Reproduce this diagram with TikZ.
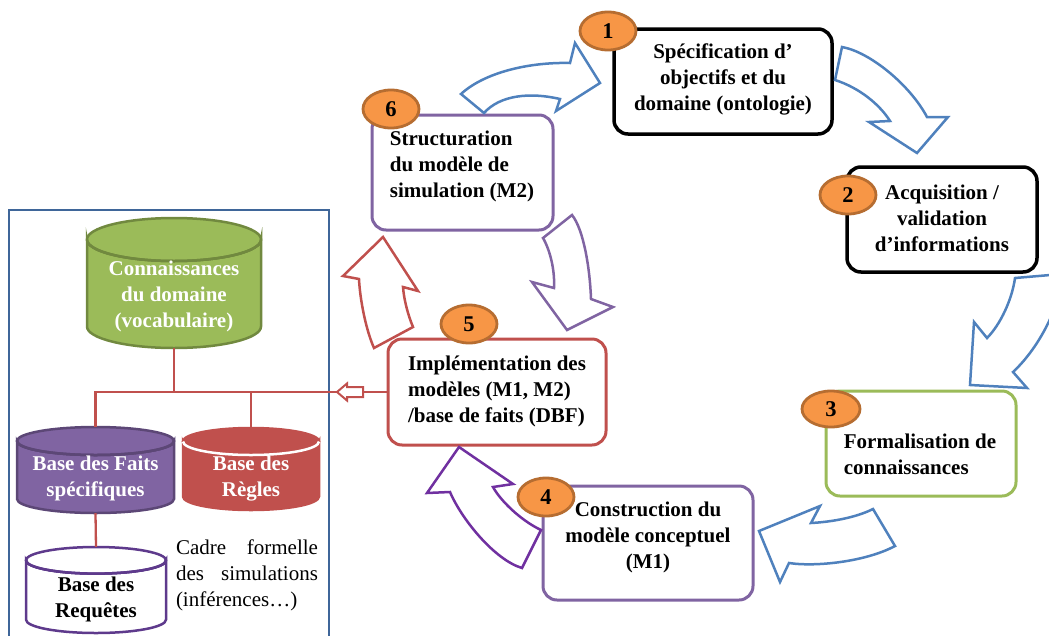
\documentclass[tikz,border=0pt]{standalone}
\usepackage{fontspec}
\setmainfont{Liberation Serif}
\usetikzlibrary{shapes.geometric}
\definecolor{cblue}{HTML}{4F81BD}
\definecolor{cpanel}{HTML}{3F6699}
\definecolor{cred}{HTML}{C0504D}
\definecolor{credD}{HTML}{B03F3C}
\definecolor{cgreen}{HTML}{9BBB59}
\definecolor{cgreenD}{HTML}{71893F}
\definecolor{cpurple}{HTML}{8064A2}
\definecolor{cpurpleD}{HTML}{5C4776}
\definecolor{cviolet}{HTML}{7030A0}
\definecolor{creq}{HTML}{5E3A8C}
\definecolor{corange}{HTML}{F79646}
\definecolor{corangeD}{HTML}{B66D31}
% #1 name, #2 cx, #3 top y, #4 bottom y, #5 rx, #6 ry, #7 fill, #8 border, #9 rim
\newcommand{\dbcyl}[9]{%
  \filldraw[fill=#7,draw=#8,line width=2.5pt]
    ({#2-#5},{#3+#6}) -- ({#2-#5},{#4-#6})
    arc[start angle=180,end angle=0,x radius=#5,y radius=#6]
    -- ({#2+#5},{#3+#6})
    arc[start angle=0,end angle=180,x radius=#5,y radius=#6] -- cycle;
  \filldraw[fill=#7,draw=#8,line width=2.5pt] (#2,{#3+#6}) ellipse[x radius=#5,y radius=#6];
  \draw[draw=#9,line width=2.5pt] ({#2+#5},{#3+#6}) arc[start angle=0,end angle=180,x radius=#5,y radius=#6];
  \node[inner sep=0pt,minimum width={2*#5},minimum height={#4-#3}] (#1) at (#2,{(#3+#4)/2}) {};
}
\begin{document}
\begin{tikzpicture}[x=1pt,y=-1pt,
  box/.style={rectangle,rounded corners=14pt,inner sep=0pt,fill=white,line width=3pt},
  num/.style={ellipse,fill=corange,draw=corangeD,line width=2.8pt,minimum width=56pt,minimum height=38pt,inner sep=0pt,font=\fontsize{22.5}{26}\selectfont\bfseries},
  lbl/.style={font=\fontsize{21}{26}\selectfont\bfseries,inner sep=0pt},
  plain/.style={font=\fontsize{21}{26}\selectfont,inner sep=0pt},
  barrow/.style={line width=2.5pt,fill=white,line join=miter},
  link/.style={draw=cred,line width=2.3pt}]
\useasboundingbox (0,0) rectangle (1049,635);
\clip (0,0) rectangle (1049,635);

% left panel
\draw[cpanel,line width=1.8pt] (9,210) rectangle (329,650);

% cylinders
\dbcyl{conn}{174}{218}{348}{87}{21.5}{cgreen}{cgreenD}{cgreenD}
\dbcyl{fsp}{95.5}{427}{513}{78.5}{14}{cpurple}{cpurpleD}{cpurpleD}
\dbcyl{regles}{251}{428}{510}{68}{13.5}{cred}{cred}{white}
\dbcyl{req}{96}{547}{633}{70}{13.3}{white}{creq}{creq}

\node[lbl,text=white,align=center] (tconn) at (174,296) {Connaissances\\du domaine\\(vocabulaire)};
\node[lbl,text=white,align=center] (tfsp) at (95.5,478.5) {Base des Faits\\spécifiques};
\node[lbl,text=white,align=center] (tregles) at (251,478.5) {Base des\\Règles};
\node[lbl,align=center] (treq) at (96,599.5) {Base des\\Requêtes};
\node[plain,text width=142pt,align=left] (tcadre) at (247,575.5) {Cadre\hfill formelle\\des\hfill simulations\\(inférences…)};

% process boxes
\node[box,draw=black,line width=3.5pt,minimum width=218pt,minimum height=105pt] (b1) at (723,81.5) {};
\node[box,draw=black,line width=3.5pt,minimum width=190pt,minimum height=105pt] (b2) at (942,219.5) {};
\node[box,draw=cgreen,minimum width=190pt,minimum height=105pt] (b3) at (921,443.5) {};
\node[box,draw=cpurple,minimum width=210pt,minimum height=114pt] (b4) at (648,543) {};
\node[box,draw=cred,minimum width=218pt,minimum height=106pt] (b5) at (497,392) {};
\node[box,draw=cpurple,minimum width=181pt,minimum height=115pt] (b6) at (462.5,172.5) {};

\node[lbl,align=center] (t1) at (723,79.5) {Spécification d’\\objectifs et du\\domaine (ontologie)};
\node[lbl,align=center] (t2) at (942,218) {Acquisition /\\validation\\d’informations};
\node[lbl,align=left] (t3) at (920,454.5) {Formalisation de\\connaissances};
\node[lbl,align=center] (t4) at (648,537) {Construction du\\modèle conceptuel\\(M1)};
\node[lbl,align=left] (t5) at (497,391) {Implémentation des\\modèles (M1, M2)\\/base de faits (DBF)};
\node[lbl,align=left] (t6) at (462,166) {Structuration\\du modèle de\\simulation (M2)};

% links in the left panel
\draw[link] (conn.south) -- (conn.south |- b5.west);
\draw[link] (fsp.north) |- (b5.west);
\draw[link] (regles.north) -- (regles.north |- b5.west);
\draw[link] (fsp.south) -- (req.north);
\coordinate (ha) at (337,392);
\filldraw[fill=white,draw=cred,line width=2pt,line join=miter]
  (ha) -- ++(10,-8.5) -- ++(0,3.5) -- ++(16,0) -- ++(0,10) -- ++(-16,0) -- ++(0,3.5) -- cycle;

% block arrows
% 6 -> 1
\draw[barrow,draw=cblue] (461,94) .. controls (485,72) and (530,62) .. (570,63)
  -- (575,43) -- (600,83) -- (556,111) -- (560,99)
  .. controls (530,92) and (500,95) .. (484,113) -- cycle;
% 1 -> 2
\draw[barrow,draw=cblue] (842,47) .. controls (870,52) and (910,85) .. (927,117)
  -- (948,117) -- (917,153) -- (869,122) -- (890,121)
  .. controls (880,105) and (860,88) .. (835,80) -- cycle;
% 2 -> 3
\draw[barrow,draw=cblue] (1015,278) -- (1062,274)
  .. controls (1062,300) and (1042,345) .. (1013,372)
  -- (1027,388) -- (970,385) -- (974,322) -- (987,338)
  .. controls (1000,325) and (1012,300) .. (1015,278) -- cycle;
% 3 -> 4
\draw[barrow,draw=cblue] (873,509) .. controls (855,518) and (830,522) .. (811,523)
  -- (820,506) -- (759,531) -- (780,582) -- (789,563)
  .. controls (815,567) and (865,562) .. (895,546) -- cycle;
% 4 -> 5
\draw[barrow,draw=cviolet] (541,530) -- (522,568)
  .. controls (495,560) and (462,520) .. (450,492)
  -- (427,493) -- (459,447) -- (513,484) -- (493,487)
  .. controls (500,500) and (520,520) .. (541,530) -- cycle;
% 5 -> 6
\draw[barrow,draw=cred] (383,237) -- (418,291) -- (403,287)
  .. controls (404,300) and (408,315) .. (413,327)
  -- (374,348) .. controls (366,330) and (360,300) .. (359,279)
  -- (343,276) -- cycle;
% 6 -> 5
\draw[barrow,draw=cpurple] (543,238) -- (572,215)
  .. controls (584,230) and (590,270) .. (591,299)
  -- (613,307) -- (567,330) -- (532,282) -- (554,288)
  .. controls (555,270) and (550,250) .. (543,238) -- cycle;

% numbers
\node[num] (n1) at (608,31) {1};
\node[num] (n2) at (848,195) {2};
\node[num,minimum width=58pt,minimum height=36pt] (n3) at (831,409) {3};
\node[num] (n4) at (546,497) {4};
\node[num] (n5) at (469,324) {5};
\node[num] (n6) at (391,109) {6};
\end{tikzpicture}
\end{document}
